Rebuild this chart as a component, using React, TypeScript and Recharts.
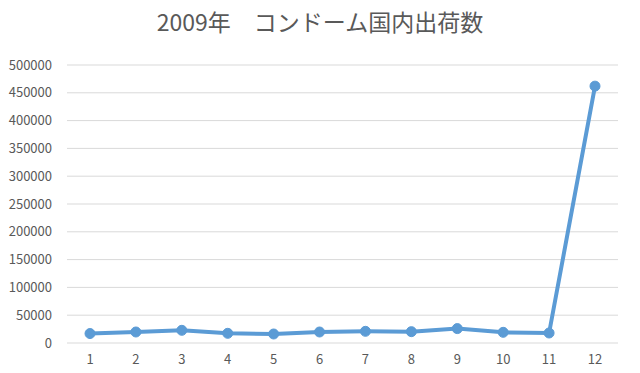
import { LineChart, Line, XAxis, YAxis, CartesianGrid } from 'recharts';

const months = ['1', '2', '3', '4', '5', '6', '7', '8', '9', '10', '11', '12'];
const shipments = [17000, 19800, 22800, 17400, 16200, 19800, 21000, 20400, 25900, 19200, 18000, 462000];
const yTicks = [0, 50000, 100000, 150000, 200000, 250000, 300000, 350000, 400000, 450000, 500000];

const data = months.map((m, i) => ({ month: m, value: shipments[i] }));

const font = '"Noto Sans CJK JP", "Noto Sans", sans-serif';
const tickStyle = { fill: '#595959', fontSize: 13, fontFamily: font };

export default function App() {
  return (
    <div style={{ margin: -8, width: 640, height: 373, position: 'relative', background: '#fff' }}>
      <div
        style={{
          position: 'absolute',
          top: 4,
          left: 0,
          width: 640,
          textAlign: 'center',
          fontFamily: font,
          fontSize: 23,
          color: '#595959',
          whiteSpace: 'pre',
        }}
      >
        2009年　コンドーム国内出荷数
      </div>
      <LineChart width={640} height={373} data={data} margin={{ top: 65, right: 22, bottom: 0, left: 0 }}>
        <CartesianGrid vertical={false} stroke="#d9d9d9" strokeWidth={1} />
        <XAxis
          dataKey="month"
          axisLine={false}
          tickLine={false}
          tickSize={0}
          tickMargin={12}
          height={30}
          tick={tickStyle}
          interval={0}
          padding={{ left: 23, right: 23 }}
        />
        <YAxis
          domain={[0, 500000]}
          ticks={yTicks}
          axisLine={false}
          tickLine={false}
          tickSize={0}
          tickMargin={15}
          width={67}
          tick={tickStyle}
          interval={0}
        />
        <Line
          type="linear"
          dataKey="value"
          stroke="#5B9BD5"
          strokeWidth={4}
          dot={{ r: 5, fill: '#5B9BD5', stroke: '#5B9BD5', strokeWidth: 1 }}
          isAnimationActive={false}
        />
      </LineChart>
    </div>
  );
}
